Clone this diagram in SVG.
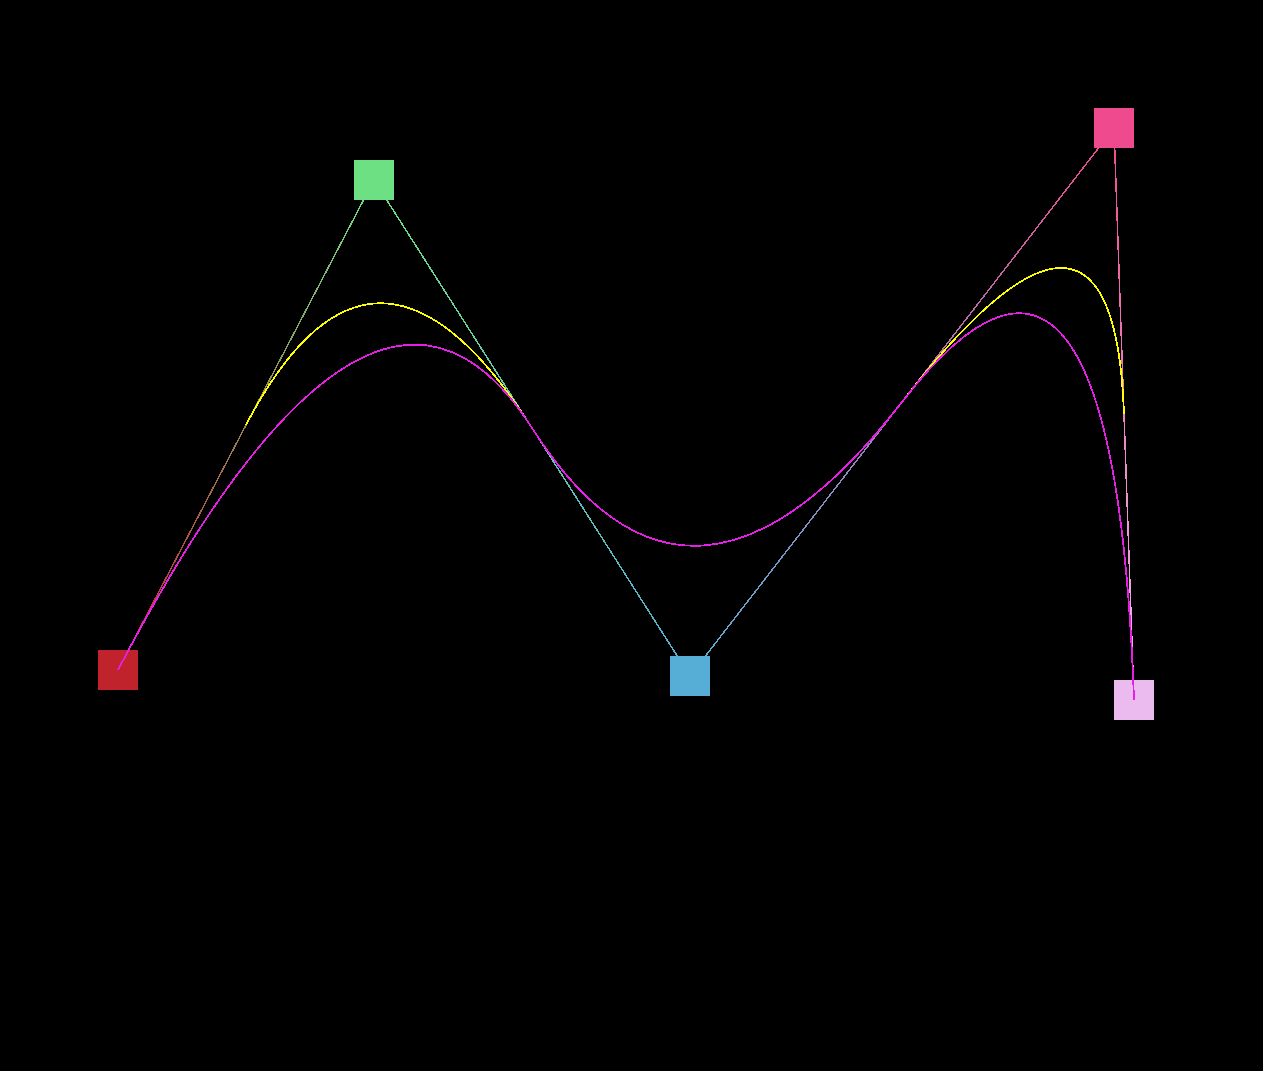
<svg xmlns="http://www.w3.org/2000/svg" width="1263" height="1071" viewBox="0 0 1263 1071">
  <style>
    .edge { fill: none; stroke-width: 1.5; shape-rendering: crispEdges; }
    .curve { fill: none; stroke-width: 1.8; shape-rendering: crispEdges; }
    .pt { shape-rendering: crispEdges; }
  </style>
  <defs>
    <linearGradient id="g01" gradientUnits="userSpaceOnUse" x1="118" y1="670" x2="374" y2="180">
      <stop offset="0" stop-color="#c1232c"/><stop offset="1" stop-color="#6de084"/>
    </linearGradient>
    <linearGradient id="g12" gradientUnits="userSpaceOnUse" x1="374" y1="180" x2="690" y2="676">
      <stop offset="0" stop-color="#6de084"/><stop offset="1" stop-color="#56aed6"/>
    </linearGradient>
    <linearGradient id="g23" gradientUnits="userSpaceOnUse" x1="690" y1="676" x2="1114" y2="128">
      <stop offset="0" stop-color="#56aed6"/><stop offset="1" stop-color="#ef4a8e"/>
    </linearGradient>
    <linearGradient id="g34" gradientUnits="userSpaceOnUse" x1="1114" y1="128" x2="1134" y2="700">
      <stop offset="0" stop-color="#ef4a8e"/><stop offset="1" stop-color="#ebbbef"/>
    </linearGradient>
  </defs>
  <rect x="0" y="0" width="1263" height="1071" fill="#000"/>
  <g id="connectors">
    <line class="edge" x1="118" y1="670" x2="374" y2="180" stroke="url(#g01)"/>
    <line class="edge" x1="374" y1="180" x2="690" y2="676" stroke="url(#g12)"/>
    <line class="edge" x1="690" y1="676" x2="1114" y2="128" stroke="url(#g23)"/>
    <line class="edge" x1="1114" y1="128" x2="1134" y2="700" stroke="url(#g34)"/>
  </g>
  <g id="nodes">
    <g id="p0"><rect class="pt" x="98" y="650" width="40" height="40" fill="#c1232c"/></g>
    <g id="p1"><rect class="pt" x="354" y="160" width="40" height="40" fill="#6de084"/></g>
    <g id="p2"><rect class="pt" x="670" y="656" width="40" height="40" fill="#56aed6"/></g>
    <g id="p3"><rect class="pt" x="1094" y="108" width="40" height="40" fill="#ef4a8e"/></g>
    <g id="p4"><rect class="pt" x="1114" y="680" width="40" height="40" fill="#ebbbef"/></g>
  </g>
  <g id="curves">
    <path class="curve" stroke="#ffff00" d="M246,425 Q374,180 532,428 M902,402 Q1114,128 1124,414"/>
    <path class="curve" stroke="#e61ee6" d="M118,670 Q374,180 532,428 Q690,676 902,402 Q1114,128 1134,700"/>
  </g>
</svg>
